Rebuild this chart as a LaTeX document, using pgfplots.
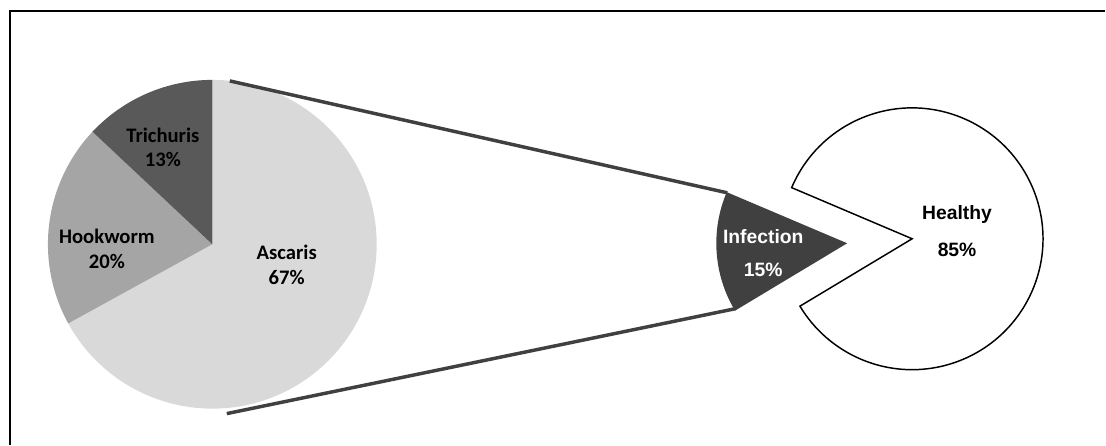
\documentclass[border=0pt]{standalone}
\usepackage{pgfplots}
\pgfplotsset{compat=1.18}
\usepackage{fontspec}
\setmainfont{Liberation Sans}
\newfontfamily\calibri{Carlito}
\newfontfamily\arial{Liberation Sans}
\definecolor{asc}{HTML}{D9D9D9}
\definecolor{hook}{HTML}{A5A5A5}
\definecolor{tric}{HTML}{595959}
\definecolor{infc}{HTML}{404040}
% data (percent)
\def\pAsc{67}\def\pHook{20}\def\pTric{13}
\def\pInf{15}\def\pHealthy{85}
\begin{document}
\begin{tikzpicture}
\pgfmathsetmacro{\aA}{90}
\pgfmathsetmacro{\aB}{90-3.6*\pAsc}
\pgfmathsetmacro{\aC}{90-3.6*(\pAsc+\pHook)}
\pgfmathsetmacro{\aD}{90-3.6*(\pAsc+\pHook+\pTric)}
\pgfmathsetmacro{\iS}{184-1.8*\pInf}
\pgfmathsetmacro{\iE}{184+1.8*\pInf}
\pgfmathsetmacro{\hE}{\iS-3.6*\pHealthy}
\def\RL{123.4pt}
\def\RR{98.25pt}
\begin{axis}[x=0.75pt, y=0.75pt, y dir=reverse,
  xmin=0, xmax=1106, ymin=0, ymax=445,
  hide axis, scale only axis, clip=false]
\path (axis cs:0,0) rectangle (axis cs:1106,445);
% left pie
\fill[asc] (axis cs:212.5,244.5) -- ++(\aA:\RL) arc[start angle=\aA, end angle=\aB, radius=\RL] -- cycle;
\fill[hook] (axis cs:212.5,244.5) -- ++(\aB:\RL) arc[start angle=\aB, end angle=\aC, radius=\RL] -- cycle;
\fill[tric] (axis cs:212.5,244.5) -- ++(\aC:\RL) arc[start angle=\aC, end angle=\aD, radius=\RL] -- cycle;
% right pie
\filldraw[fill=white, draw=black, line width=1.1pt, line join=miter] (axis cs:913,239) -- ++(\iS:\RR) arc[start angle=\iS, end angle=\hE, radius=\RR] -- cycle;
\fill[infc] (axis cs:848,243.5) -- ++(\iS:\RR) arc[start angle=\iS, end angle=\iE, radius=\RR] -- cycle;
% connectors
\addplot[infc, line width=2.6pt, line cap=butt] coordinates {(230,81) (728,193)};
\addplot[infc, line width=2.6pt, line cap=butt] coordinates {(227,414) (736,309)};
% frame (top and left edges)
\addplot[black, line width=1.6pt, line cap=butt, line join=miter] coordinates {(9.8,445) (9.8,11) (1106,11)};
% labels
\begin{scope}[every node/.style={font=\calibri\bfseries\fontsize{15.5}{18}\selectfont, inner sep=0pt}]
\node at (axis cs:163,135) {Trichuris};
\node at (axis cs:163,160) {13\%};
\node at (axis cs:107,237) {Hookworm};
\node at (axis cs:107,262) {20\%};
\node at (axis cs:287,253) {Ascaris};
\node at (axis cs:287,278) {67\%};
\end{scope}
\begin{scope}[every node/.style={font=\arial\bfseries\fontsize{14.5}{17}\selectfont, inner sep=0pt}]
\node[text=white] at (axis cs:764,237) {Infection};
\node[text=white] at (axis cs:764,270) {15\%};
\node at (axis cs:958,215) {Healthy};
\node at (axis cs:958,250) {85\%};
\end{scope}
\end{axis}
\end{tikzpicture}
\end{document}
